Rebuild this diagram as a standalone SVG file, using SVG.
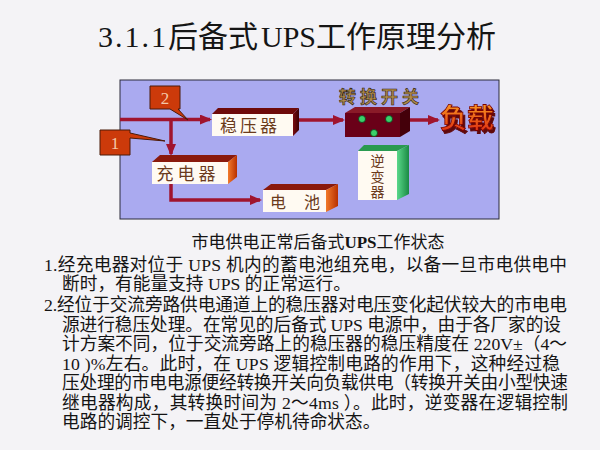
<svg xmlns="http://www.w3.org/2000/svg" width="600" height="450" viewBox="0 0 600 450">
<style>
.body{font-family:"Liberation Serif","Noto Sans CJK SC",serif;font-size:17.7px;fill:#141414}
.lbl{font-family:"Noto Sans CJK SC",sans-serif;fill:#6b3a1c}
.conn{fill:none;stroke:#a0142e;stroke-width:3.5}
.front{fill:#fffaf2}
.call{fill:#cc3a0a;stroke:#4a1a08;stroke-width:1}
.callt{font-family:"Liberation Serif",serif;font-size:17px;fill:#f4c8a8;text-anchor:middle}
</style>
<defs>
<marker id="ah" viewBox="0 0 12 10" refX="10" refY="5" markerWidth="12" markerHeight="10" markerUnits="userSpaceOnUse" orient="auto">
<path d="M0,0 L12,5 L0,10 z" fill="#a0142e"/>
</marker>
<linearGradient id="gOr" x1="0" y1="0" x2="1" y2="0"><stop offset="0" stop-color="#f27a2a"/><stop offset="1" stop-color="#b83000"/></linearGradient>
<linearGradient id="gMar" x1="0" y1="0" x2="1" y2="0"><stop offset="0" stop-color="#7a0c10"/><stop offset="1" stop-color="#3a0004"/></linearGradient>
<linearGradient id="gGr" x1="0" y1="0" x2="1" y2="0"><stop offset="0" stop-color="#5ad88a"/><stop offset="1" stop-color="#1a8a44"/></linearGradient>
<linearGradient id="gLoad" x1="0" y1="0" x2="0" y2="1"><stop offset="0" stop-color="#ffb228"/><stop offset="1" stop-color="#dc1e0e"/></linearGradient>
<filter id="sh" x="-20%" y="-20%" width="150%" height="160%"><feDropShadow dx="2" dy="3" stdDeviation="0.6" flood-color="#5a0000" flood-opacity="0.95"/></filter>
</defs>
<rect width="600" height="450" fill="#f4f3f6"/>
<text x="98" y="47" font-family="'Liberation Serif','Noto Sans CJK SC',serif" font-size="30" fill="#151515"><tspan letter-spacing="2">3.1.1</tspan>后备式<tspan dx="3">UPS</tspan>工作原理分析</text>
<rect x="120" y="80" width="379" height="139" fill="#aaaaf0" stroke="#2a2a3a" stroke-width="1"/>
<g id="connectors">
<path class="conn" d="M120,119.5 H210" marker-end="url(#ah)"/>
<path class="conn" d="M298,120 H343" marker-end="url(#ah)"/>
<path class="conn" d="M410,120 H438" marker-end="url(#ah)"/>
<path class="conn" d="M171,119.5 V154" marker-end="url(#ah)"/>
<path class="conn" d="M171,184 V200 H260" marker-end="url(#ah)"/>
</g>
<g id="regulator">
<polygon points="212,114 218,108 299,108 293,114" fill="#6e0a0a"/>
<polygon points="293,114 299,108 299,130 293,136" fill="url(#gMar)"/>
<rect class="front" x="212" y="114" width="81" height="22"/>
<text class="lbl" x="250" y="131.5" font-size="17" letter-spacing="3" text-anchor="middle">稳压器</text>
</g>
<g id="switch">
<polygon points="345,113 355,107 410,107 400,113" fill="#8a1a28"/>
<polygon points="400,113 410,107 410,131 400,137" fill="#44000a"/>
<rect x="345" y="113" width="55" height="24" fill="#6a0018"/>
<circle cx="362" cy="119" r="3.5" fill="#3ad06a" stroke="#0a3a18" stroke-width="0.8"/>
<circle cx="389" cy="119" r="3.5" fill="#3ad06a" stroke="#0a3a18" stroke-width="0.8"/>
<circle cx="374" cy="133" r="3.5" fill="#3ad06a" stroke="#0a3a18" stroke-width="0.8"/>
<text x="381" y="103" font-family="'Noto Sans CJK SC',sans-serif" font-size="17" font-weight="bold" letter-spacing="4" text-anchor="middle" fill="#b08a4a" stroke="#2a1a08" stroke-width="0.6">转换开关</text>
</g>
<g id="load">
<text x="467" y="128" font-family="'Noto Sans CJK SC',sans-serif" font-size="27" font-weight="bold" text-anchor="middle" fill="url(#gLoad)" stroke="#7a0000" stroke-width="0.8" filter="url(#sh)">负载</text>
</g>
<g id="charger">
<polygon points="152,162 160,155 237,155 228,162" fill="#8a1a0c"/>
<polygon points="228,162 237,155 237,177 228,184" fill="url(#gOr)"/>
<rect class="front" x="152" y="162" width="76" height="22"/>
<text class="lbl" x="188" y="180" font-size="17" letter-spacing="4" text-anchor="middle">充电器</text>
</g>
<g id="battery">
<polygon points="263,190 271,184 338,184 326,190" fill="#8a1a0c"/>
<polygon points="326,190 338,184 338,206 326,212" fill="url(#gOr)"/>
<rect class="front" x="263" y="190" width="63" height="22"/>
<text class="lbl" x="270" y="207.5" font-size="16">电</text>
<text class="lbl" x="304" y="207.5" font-size="16">池</text>
</g>
<g id="inverter">
<polygon points="358,151 364,145 409,145 397,151" fill="#2a9a50"/>
<polygon points="397,151 409,145 409,194 397,200" fill="url(#gGr)"/>
<rect class="front" x="358" y="151" width="39" height="49"/>
<text class="lbl" x="377.5" y="154" font-size="14" writing-mode="vertical-rl" letter-spacing="1.5">逆变器</text>
</g>
<g id="callout2">
<path class="call" d="M150,86 H180 V109 H178 L188,120 L170,109 H150 Z"/>
<text class="callt" x="165" y="104">2</text>
</g>
<g id="callout1">
<path class="call" d="M100,130 H130 V133 L165,141 L130,138 V155 H100 Z"/>
<text class="callt" x="115" y="148.5">1</text>
</g>
<text x="318" y="248" font-family="'Liberation Serif','Noto Sans CJK SC',serif" font-size="17" fill="#141414" text-anchor="middle">市电供电正常后备式<tspan font-weight="bold">UPS</tspan>工作状态</text>
<text class="body" x="44" y="271" textLength="523" lengthAdjust="spacing">1.经充电器对位于 UPS 机内的蓄电池组充电，以备一旦市电供电中</text>
<text class="body" x="62" y="290">断时，有能量支持 UPS 的正常运行。</text>
<text class="body" x="44" y="311" textLength="523" lengthAdjust="spacing">2.经位于交流旁路供电通道上的稳压器对电压变化起伏较大的市电电</text>
<text class="body" x="62" y="330.5" textLength="499" lengthAdjust="spacing">源进行稳压处理。在常见的后备式 UPS 电源中，由于各厂家的设</text>
<text class="body" x="62" y="350" textLength="505" lengthAdjust="spacing">计方案不同，位于交流旁路上的稳压器的稳压精度在 220V±（4～</text>
<text class="body" x="62" y="369.5" textLength="498" lengthAdjust="spacing">10 )%左右。此时，在 UPS 逻辑控制电路的作用下，这种经过稳</text>
<text class="body" x="62" y="389" textLength="506" lengthAdjust="spacing">压处理的市电电源便经转换开关向负载供电（转换开关由小型快速</text>
<text class="body" x="62" y="408.5" textLength="506" lengthAdjust="spacing">继电器构成，其转换时间为 2～4ms ）。此时，逆变器在逻辑控制</text>
<text class="body" x="62" y="428">电路的调控下，一直处于停机待命状态。</text>
</svg>
